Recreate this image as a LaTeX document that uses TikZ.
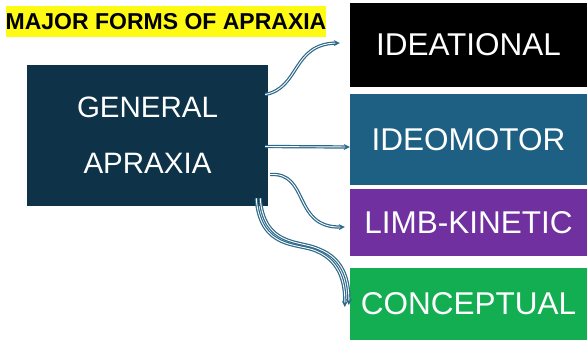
\documentclass[tikz,border=0pt]{standalone}
\usepackage{fontspec}
\setmainfont{Liberation Sans}
\usetikzlibrary{calc,arrows.meta}

\definecolor{navy}{RGB}{14,50,72}
\definecolor{motorblue}{RGB}{30,96,132}
\definecolor{limbpurple}{RGB}{112,48,160}
\definecolor{conceptgreen}{RGB}{20,174,82}
\definecolor{arrowblue}{RGB}{44,104,136}
\definecolor{hiyellow}{RGB}{255,250,20}

\tikzset{
  formbox/.style={fill=#1, text=white, inner sep=0pt, minimum width=237pt,
    font=\fontsize{31.5}{36}\selectfont},
  linkarrow/.style={draw=arrowblue, line width=1.2pt, double=white,
    double distance=0.9pt, -{Stealth[length=6pt,width=6pt]}},
}

\begin{document}
\begin{tikzpicture}[x=1pt,y=-1pt]
  \useasboundingbox (0,0) rectangle (587,340);

  % heading on a highlighter strip
  \node[fill=hiyellow, minimum width=318pt, minimum height=31pt, inner sep=0pt,
        font=\fontsize{23}{26}\selectfont\bfseries] (title) at (166,21.5)
        {MAJOR FORMS OF APRAXIA};

  % central concept
  \node[fill=navy, text=white, minimum width=241pt, minimum height=141pt,
        inner sep=0pt, align=center, font=\fontsize{29.5}{56}\selectfont]
        (gen) at (147.5,135.5) {GENERAL\\APRAXIA};

  % the four forms
  \node[formbox=black, minimum height=84pt] (ideational) at (468.5,45) {IDEATIONAL};
  \node[formbox=motorblue, minimum height=91pt] (ideomotor) at (468.5,139.5) {IDEOMOTOR};
  \node[formbox=limbpurple, minimum height=67pt] (limb) at (468.5,222.5) {LIMB-KINETIC};
  \node[formbox=conceptgreen, minimum height=72pt] (conceptual) at (468.5,304) {CONCEPTUAL};

  % hand-drawn style links
  \draw[linkarrow] ($(gen.east)+(-3,-41)$)
    .. controls (300,88) and (292,44) .. ($(ideational.west)+(-10,-2)$);
  \draw[linkarrow] ($(gen.east)+(-3,11)$) -- ($(ideomotor.west)+(0,7.5)$);
  \draw[linkarrow] ($(gen.east)+(2,39)$)
    .. controls (310,172) and (292,228) .. ($(limb.west)+(-5,4.5)$);
  \draw[linkarrow] ($(gen.south east)+(-12,-8)$)
    .. controls (260,250) and (298,243) .. (316,251)
    .. controls (343,262) and (345,288) .. ($(conceptual.west)+(-5,3)$);
  \draw[linkarrow] ($(gen.south east)+(-8,-8)$)
    .. controls (264,247) and (300,240) .. (319,249)
    .. controls (347,260) and (349,286) .. ($(conceptual.west)+(-1,1)$);
\end{tikzpicture}
\end{document}
